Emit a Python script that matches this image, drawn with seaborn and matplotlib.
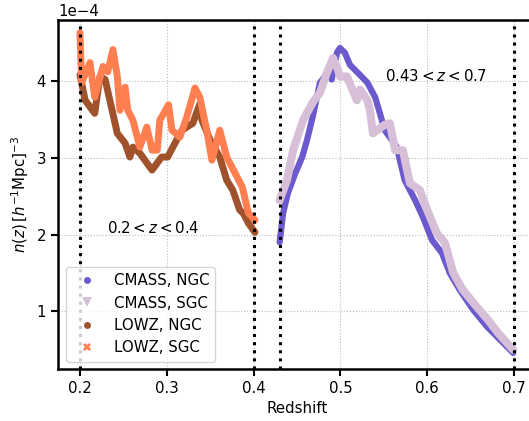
import numpy as np
import pandas as pd
import matplotlib
matplotlib.use("Agg")
import matplotlib.pyplot as plt
from matplotlib.lines import Line2D
import seaborn as sns

# ---- data (n(z) in units of 1e-4 [h^-1 Mpc]^-3) ----
z_cmass_ngc = [0.430, 0.434, 0.4395, 0.448, 0.456, 0.4615, 0.468, 0.4765, 0.4855, 0.490,
               0.496, 0.4995, 0.505, 0.511, 0.5225, 0.531, 0.540, 0.5455, 0.551, 0.565,
               0.5685, 0.574, 0.586, 0.595, 0.6055, 0.617, 0.626, 0.6375, 0.653, 0.669,
               0.684, 0.699]
n_cmass_ngc = [1.90, 2.28, 2.54, 2.80, 3.01, 3.23, 3.53, 3.98, 4.11, 4.02,
               4.37, 4.43, 4.37, 4.21, 4.08, 3.98, 3.79, 3.58, 3.36, 3.14,
               2.97, 2.71, 2.45, 2.23, 1.93, 1.76, 1.50, 1.28, 1.02, 0.80,
               0.63, 0.46]

z_cmass_sgc = [0.430, 0.4385, 0.4455, 0.457, 0.468, 0.4765, 0.4845, 0.4915, 0.497, 0.4995,
               0.5075, 0.519, 0.5225, 0.531, 0.534, 0.5375, 0.551, 0.557, 0.563, 0.572,
               0.580, 0.5915, 0.600, 0.611, 0.6205, 0.630, 0.641, 0.657, 0.670, 0.6815,
               0.699]
n_cmass_sgc = [2.45, 2.71, 3.10, 3.49, 3.72, 3.85, 4.11, 4.30, 4.15, 4.06,
               4.06, 3.75, 3.89, 3.75, 3.62, 3.32, 3.43, 3.45, 3.10, 3.10,
               2.67, 2.58, 2.32, 2.02, 1.89, 1.50, 1.28, 1.06, 0.89, 0.72,
               0.50]

z_lowz_ngc = [0.200, 0.206, 0.217, 0.223, 0.229, 0.237, 0.243, 0.252, 0.2575, 0.261,
              0.269, 0.283, 0.294, 0.301, 0.307, 0.3175, 0.330, 0.338, 0.3405, 0.350,
              0.361, 0.369, 0.376, 0.384, 0.388, 0.394, 0.4015]
n_lowz_ngc = [4.08, 3.75, 3.58, 4.06, 4.02, 3.62, 3.32, 3.19, 3.01, 3.14,
              3.06, 2.84, 3.01, 3.01, 3.14, 3.36, 3.45, 3.70, 3.49, 3.23,
              3.01, 2.71, 2.58, 2.32, 2.28, 2.15, 2.03]

z_lowz_sgc = [0.200, 0.202, 0.2115, 0.217, 0.2265, 0.232, 0.238, 0.243, 0.246, 0.252,
              0.255, 0.261, 0.269, 0.277, 0.283, 0.289, 0.292, 0.302, 0.306, 0.315,
              0.323, 0.3325, 0.338, 0.346, 0.352, 0.361, 0.369, 0.381, 0.387, 0.394,
              0.4015]
n_lowz_sgc = [4.63, 3.98, 4.24, 3.79, 4.19, 4.12, 4.41, 4.06, 3.62, 3.92,
              3.62, 3.49, 3.14, 3.40, 3.10, 3.10, 3.49, 3.69, 3.36, 3.27,
              3.53, 3.91, 3.79, 3.36, 2.97, 3.36, 3.01, 2.75, 2.62, 2.28,
              2.19]

labels = ["CMASS, NGC", "CMASS, SGC", "LOWZ, NGC", "LOWZ, SGC"]
colors = ["slateblue", "thistle", "sienna", "coral"]
markers = ["o", "v", "o", "X"]
msizes = [5, 6.5, 5, 6]
widths = [4.5, 5.8, 5.0, 5.0]
series = [(z_cmass_ngc, n_cmass_ngc), (z_cmass_sgc, n_cmass_sgc),
          (z_lowz_ngc, n_lowz_ngc), (z_lowz_sgc, n_lowz_sgc)]

z_cuts = [0.2, 0.4, 0.43, 0.7]

# ---- plot ----
FS = 10.8
sns.set_style("ticks")
plt.rcParams["font.family"] = ["DejaVu Sans"]
plt.rcParams["font.size"] = FS
plt.rcParams["mathtext.fontset"] = "dejavusans"
for k in ["text.color", "axes.labelcolor", "xtick.color", "ytick.color", "axes.edgecolor"]:
    plt.rcParams[k] = "black"

fig = plt.figure(figsize=(5.29, 4.21), dpi=100)
ax = fig.add_axes([58 / 529, 1 - 369 / 421, (536 - 58) / 529, (369 - 20) / 421])

for (zz, nn), lab, col, lw in zip(series, labels, colors, widths):
    df = pd.DataFrame({"z": zz, "n": np.array(nn) * 1e-4})
    sns.lineplot(data=df, x="z", y="n", ax=ax, color=col, lw=lw,
                 solid_capstyle="round", solid_joinstyle="round",
                 estimator=None, sort=False, legend=False)

for zc in z_cuts:
    ax.axvline(zc, color="black", ls=":", lw=2.2, zorder=5)

ax.set_xlim(0.1747, 0.7253)
ax.set_ylim(0.25e-4, 4.795e-4)
ax.set_xticks([0.2, 0.3, 0.4, 0.5, 0.6, 0.7])
ax.set_yticks([1e-4, 2e-4, 3e-4, 4e-4])
ax.ticklabel_format(axis="y", style="sci", scilimits=(0, 0))
ax.grid(True, color="#bbbbbb", ls=":", lw=0.8)
ax.set_axisbelow(True)

for s in ax.spines.values():
    s.set_linewidth(1.8)
    s.set_color("black")
ax.tick_params(width=1.5, length=5, labelsize=FS, direction="out", colors="black")
ax.yaxis.get_offset_text().set_fontsize(FS)

ax.set_xlabel("Redshift", fontsize=FS)
ax.set_ylabel(r"$n(z)\,[h^{-1}{\rm Mpc}]^{-3}$", fontsize=FS)

ax.text(0.231, 2.09e-4, r"$0.2 < z < 0.4$", ha="left", va="center", fontsize=FS)
ax.text(0.5514, 4.07e-4, r"$0.43 < z < 0.7$", ha="left", va="center", fontsize=FS)

handles = [Line2D([], [], ls="none", marker=m, color=c, markersize=ms, markeredgewidth=0)
           for m, c, ms in zip(markers, colors, msizes)]
leg = ax.legend(handles, labels, loc="lower left", fontsize=FS, frameon=True)
leg.get_frame().set_edgecolor("#cccccc")

fig.savefig("out.png", dpi=100)
